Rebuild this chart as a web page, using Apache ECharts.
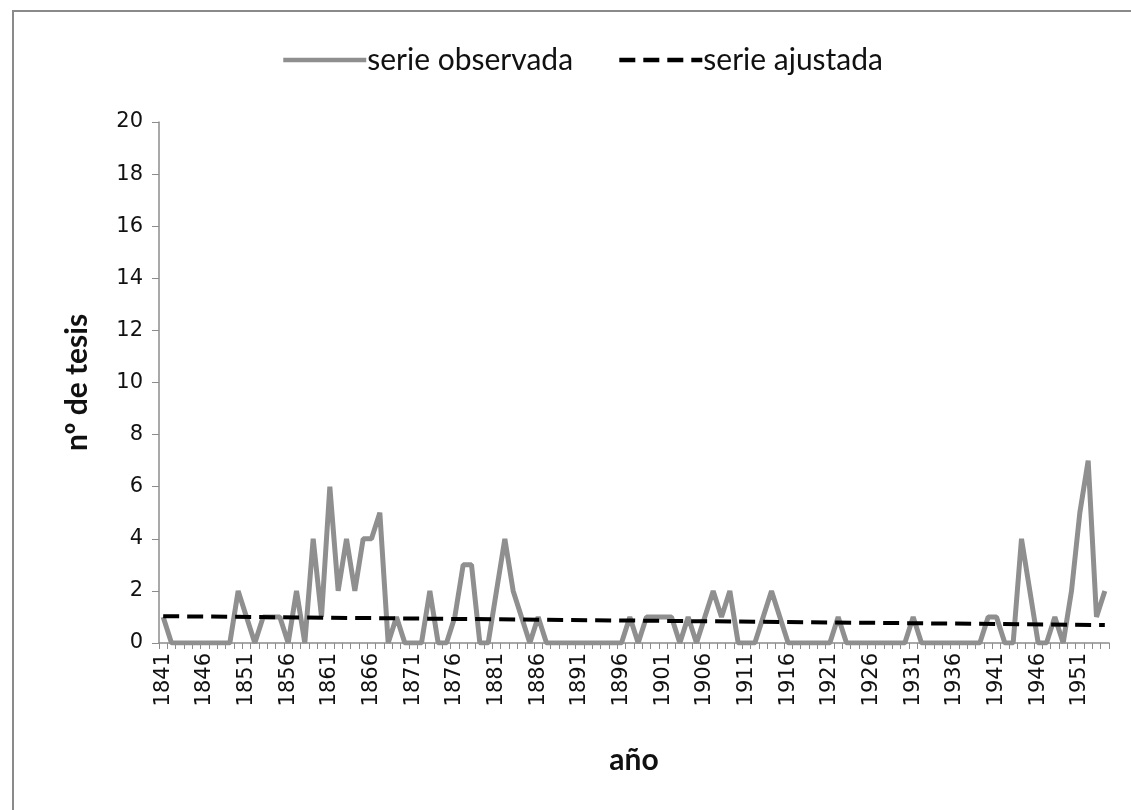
<!DOCTYPE html>
<html><head><meta charset="utf-8">
<script src="https://cdn.jsdelivr.net/npm/echarts@6/dist/echarts.min.js"></script>
<style>
html,body{margin:0;padding:0;background:#fff;}
#frame{position:absolute;left:12px;top:10px;width:1200px;height:900px;border:2px solid #8a8a8a;box-sizing:border-box;}
#chart{position:absolute;left:0;top:0;width:1131px;height:810px;}
</style></head><body>
<div id="frame"></div>
<div id="chart"></div>
<script>
const years = [
 '1841','1842','1843','1844','1845','1846','1847','1848','1849','1850',
 '1851','1852','1853','1854','1855','1856','1857','1858','1859','1860',
 '1861','1862','1863','1864','1865','1866','1867','1868','1869','1870',
 '1871','1872','1873','1874','1875','1876','1877','1878','1879','1880',
 '1881','1882','1883','1884','1885','1886','1887','1888','1889','1890',
 '1891','1892','1893','1894','1895','1896','1897','1898','1899','1900',
 '1901','1902','1903','1904','1905','1906','1907','1908','1909','1910',
 '1911','1912','1913','1914','1915','1916','1917','1918','1919','1920',
 '1921','1922','1923','1924','1925','1926','1927','1928','1929','1930',
 '1931','1932','1933','1934','1935','1936','1937','1938','1939','1940',
 '1941','1942','1943','1944','1945','1946','1947','1948','1949','1950',
 '1951','1952','1953','1954'
];
const observed = [
 1,0,0,0,0,0,0,0,0,2,
 1,0,1,1,1,0,2,0,4,1,
 6,2,4,2,4,4,5,0,1,0,
 0,0,2,0,0,1,3,3,0,0,
 2,4,2,1,0,1,0,0,0,0,
 0,0,0,0,0,0,1,0,1,1,
 1,1,0,1,0,1,2,1,2,0,
 0,0,1,2,1,0,0,0,0,0,
 0,1,0,0,0,0,0,0,0,0,
 1,0,0,0,0,0,0,0,0,1,
 1,0,0,4,2,0,0,1,0,2,
 5,7,1,2
];
const fitted = [['1841', 1.03], ['1954', 0.69]];
const yTicks = { min: 0, max: 20, step: 2 };
const seriesNames = ['serie observada', 'serie ajustada'];

const chart = echarts.init(document.getElementById('chart'), null, { renderer: 'canvas' });
chart.setOption({
  animation: false,
  backgroundColor: 'transparent',
  grid: { left: 159, right: 22, top: 122, bottom: 167, containLabel: false },
  legend: {
    top: 40, left: 276,
    itemWidth: 83, itemHeight: 14, itemGap: 44,
    itemStyle: { opacity: 0 },
    lineStyle: { width: 4.5 },
    textStyle: { fontFamily: 'Lato', fontSize: 30, color: '#111', padding: [0, 0, 0, -4] },
    data: seriesNames
  },
  xAxis: {
    type: 'category', data: years, boundaryGap: true,
    axisLine: { lineStyle: { color: '#8c8c8c', width: 1.5 } },
    axisTick: { show: true, interval: 0, length: 6, lineStyle: { color: '#8c8c8c' } },
    axisLabel: { interval: 4, rotate: 90, fontFamily: 'DejaVu Sans', fontSize: 21, color: '#111', margin: 10 },
    splitLine: { show: false },
    name: 'año', nameLocation: 'middle', nameGap: 102,
    nameTextStyle: { fontFamily: 'Lato', fontWeight: 'bold', fontSize: 30, color: '#111' }
  },
  yAxis: {
    type: 'value', min: yTicks.min, max: yTicks.max, interval: yTicks.step,
    axisLine: { show: true, lineStyle: { color: '#8c8c8c', width: 1.5 } },
    axisTick: { show: true, length: 7, lineStyle: { color: '#8c8c8c' } },
    axisLabel: { fontFamily: 'DejaVu Sans', fontSize: 21, color: '#111', margin: 16 },
    splitLine: { show: false },
    name: 'nº de tesis', nameLocation: 'middle', nameGap: 67,
    nameTextStyle: { fontFamily: 'Lato', fontWeight: 'bold', fontSize: 30, color: '#111' }
  },
  series: [
    {
      name: seriesNames[0], type: 'line', data: observed,
      symbol: 'none', lineStyle: { color: '#8f8f8f', width: 5 }, itemStyle: { color: '#8f8f8f' }
    },
    {
      name: seriesNames[1], type: 'line', data: fitted,
      symbol: 'none', lineStyle: { color: '#000', width: 4, type: [16, 8] }, itemStyle: { color: '#000' }
    }
  ]
});
</script>
</body></html>
